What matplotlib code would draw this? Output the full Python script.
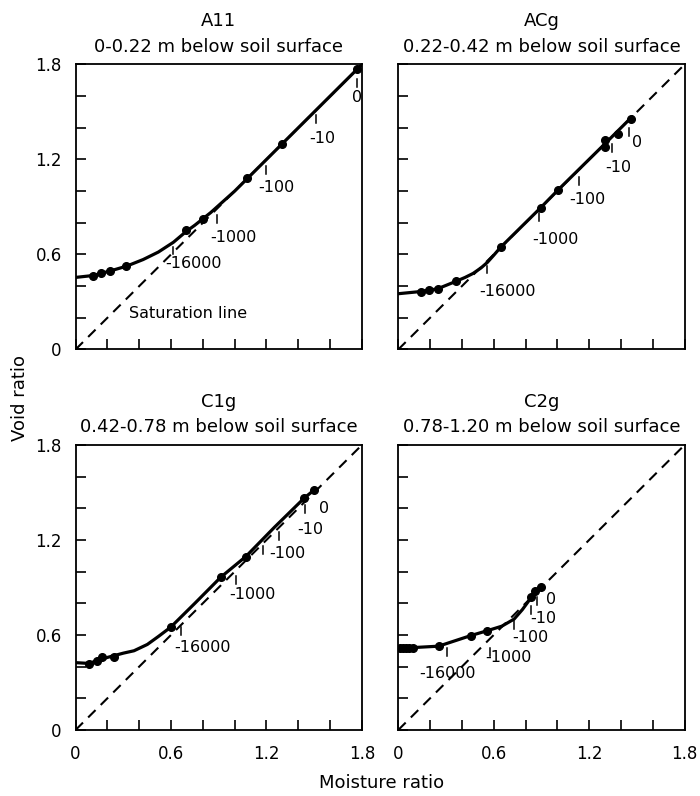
import numpy as np
import matplotlib
matplotlib.use("Agg")
import matplotlib.pyplot as plt
from matplotlib.ticker import MultipleLocator, FixedLocator

plt.rcParams['font.family'] = ['DejaVu Sans']

# ---------------------------------------------------
# Data (moisture ratio vs void ratio)
# ---------------------------------------------------
horizons = ["A11", "ACg", "C1g", "C2g"]
depths = ["0-0.22 m below soil surface", "0.22-0.42 m below soil surface",
          "0.42-0.78 m below soil surface", "0.78-1.20 m below soil surface"]

# fitted shrinkage curves
a11_curve_x = [0.0, 0.11, 0.215, 0.32, 0.425, 0.52, 0.615, 0.695, 0.75, 0.80, 0.85, 0.90, 1.0, 1.08, 1.30, 1.55, 1.80]
a11_curve_y = [0.455, 0.467, 0.495, 0.526, 0.568, 0.615, 0.677, 0.745, 0.785, 0.825, 0.865, 0.91, 1.0, 1.08, 1.30, 1.55, 1.80]
acg_curve_x = [0.0, 0.142, 0.247, 0.362, 0.42, 0.47, 0.52, 0.56, 0.60, 0.644, 0.895, 1.006, 1.30, 1.47]
acg_curve_y = [0.352, 0.366, 0.383, 0.43, 0.455, 0.48, 0.515, 0.55, 0.595, 0.646, 0.895, 1.009, 1.30, 1.47]
c1g_curve_x = [0.0, 0.084, 0.136, 0.2, 0.3, 0.367, 0.451, 0.52, 0.598, 0.75, 0.913, 1.07, 1.25, 1.437, 1.50]
c1g_curve_y = [0.425, 0.42, 0.438, 0.458, 0.485, 0.50, 0.54, 0.59, 0.649, 0.80, 0.965, 1.095, 1.28, 1.464, 1.516]
c2g_curve_x = [0.0, 0.09, 0.253, 0.456, 0.56, 0.65, 0.728, 0.78, 0.836, 0.90]
c2g_curve_y = [0.52, 0.52, 0.529, 0.596, 0.627, 0.655, 0.70, 0.76, 0.837, 0.90]

# measured points
a11_pts_x = [0.11, 0.16, 0.215, 0.32, 0.695, 0.80, 1.08, 1.30, 1.77]
a11_pts_y = [0.467, 0.485, 0.495, 0.526, 0.752, 0.825, 1.08, 1.30, 1.77]
acg_pts_x = [0.142, 0.194, 0.247, 0.362, 0.644, 0.895, 1.006, 1.30, 1.30, 1.382, 1.46]
acg_pts_y = [0.366, 0.377, 0.383, 0.43, 0.646, 0.895, 1.009, 1.325, 1.278, 1.362, 1.453]
c1g_pts_x = [0.084, 0.136, 0.168, 0.241, 0.598, 0.913, 1.07, 1.437, 1.50]
c1g_pts_y = [0.417, 0.438, 0.463, 0.463, 0.649, 0.965, 1.095, 1.464, 1.516]
c2g_pts_x = [0.01, 0.03, 0.05, 0.07, 0.09, 0.253, 0.456, 0.56, 0.836, 0.857, 0.90]
c2g_pts_y = [0.52, 0.52, 0.52, 0.52, 0.52, 0.529, 0.596, 0.627, 0.837, 0.879, 0.90]

# pressure head markers (cm) on each curve
head_labels = ["0", "-10", "-100", "-1000", "-16000"]
a11_tick_x = [1.77, 1.51, 1.20, 0.89, 0.615]
a11_tick_y = [1.71, 1.48, 1.16, 0.85, 0.65]
a11_text_x = [1.77, 1.55, 1.26, 0.99, 0.74]
a11_text_y = [1.59, 1.33, 1.02, 0.71, 0.54]
acg_tick_x = [1.45, 1.345, 1.135, 0.885, 0.56]
acg_tick_y = [1.40, 1.30, 1.088, 0.86, 0.53]
acg_text_x = [1.50, 1.386, 1.188, 0.99, 0.686]
acg_text_y = [1.31, 1.152, 0.946, 0.693, 0.368]
c1g_tick_x = [1.44, 1.28, 1.18, 1.007, 0.66]
c1g_tick_y = [1.42, 1.25, 1.16, 0.97, 0.65]
c1g_text_x = [1.56, 1.473, 1.33, 1.11, 0.797]
c1g_text_y = [1.40, 1.263, 1.116, 0.853, 0.522]
c2g_tick_x = [0.87, 0.833, 0.728, 0.577, 0.306]
c2g_tick_y = [0.84, 0.78, 0.686, 0.518, 0.518]
c2g_text_x = [0.958, 0.91, 0.833, 0.693, 0.31]
c2g_text_y = [0.822, 0.703, 0.581, 0.455, 0.354]

panels = [
    (a11_curve_x, a11_curve_y, a11_pts_x, a11_pts_y, a11_tick_x, a11_tick_y, a11_text_x, a11_text_y),
    (acg_curve_x, acg_curve_y, acg_pts_x, acg_pts_y, acg_tick_x, acg_tick_y, acg_text_x, acg_text_y),
    (c1g_curve_x, c1g_curve_y, c1g_pts_x, c1g_pts_y, c1g_tick_x, c1g_tick_y, c1g_text_x, c1g_text_y),
    (c2g_curve_x, c2g_curve_y, c2g_pts_x, c2g_pts_y, c2g_tick_x, c2g_tick_y, c2g_text_x, c2g_text_y),
]

fig = plt.figure(figsize=(7.0, 7.96), dpi=100)
lefts = [0.108, 0.569, 0.108, 0.569]
bottoms = [0.561, 0.561, 0.083, 0.083]
w, h = 0.409, 0.358

for k, (cx, cy, px, py, tx, ty, lx, ly) in enumerate(panels):
    ax = fig.add_axes([lefts[k], bottoms[k], w, h])
    # saturation line
    ax.plot([0, 1.8], [0, 1.8], color='black', lw=1.5, ls=(0, (5, 3.5)), zorder=2)
    ax.plot(cx, cy, color='black', lw=2.3, solid_capstyle='round',
            solid_joinstyle='round', zorder=3)
    ax.plot(px, py, 'o', color='black', ms=5.5, zorder=4)
    for i, lab in enumerate(head_labels):
        ax.plot([tx[i], tx[i]], [ty[i], ty[i] - 0.05], color='black', lw=1.1, zorder=4)
        ax.text(lx[i], ly[i], lab, fontsize=11.5, ha='center', va='center', zorder=5)

    ax.set_xlim(0, 1.8)
    ax.set_ylim(0, 1.8)
    ax.xaxis.set_major_locator(FixedLocator([0, 0.6, 1.2, 1.8]))
    ax.yaxis.set_major_locator(FixedLocator([0, 0.6, 1.2, 1.8]))
    ax.xaxis.set_minor_locator(MultipleLocator(0.2))
    ax.yaxis.set_minor_locator(MultipleLocator(0.2))
    ax.tick_params(which='both', direction='in', length=7, width=1.2,
                   top=False, right=False, labelsize=12)
    ax.tick_params(axis='x', pad=11)
    ax.tick_params(axis='y', pad=10)
    ax.set_xticklabels(["0", "0.6", "1.2", "1.8"])
    ax.set_yticklabels(["0", "0.6", "1.2", "1.8"])
    if k < 2:
        ax.tick_params(labelbottom=False)
    if k % 2 == 1:
        ax.tick_params(labelleft=False)
    for sp in ax.spines.values():
        sp.set_linewidth(1.3)
    ax.set_title(horizons[k] + "\n" + depths[k], fontsize=13, linespacing=1.55, pad=9)

    if k == 0:
        ax.text(0.71, 0.23, "Saturation line", fontsize=11.5, ha='center', va='center')

fig.text(0.029, 0.5, "Void ratio", rotation=90, fontsize=13, ha='center', va='center')
fig.text(0.545, 0.016, "Moisture ratio", fontsize=13, ha='center', va='center')

fig.savefig("out.png", dpi=100)
